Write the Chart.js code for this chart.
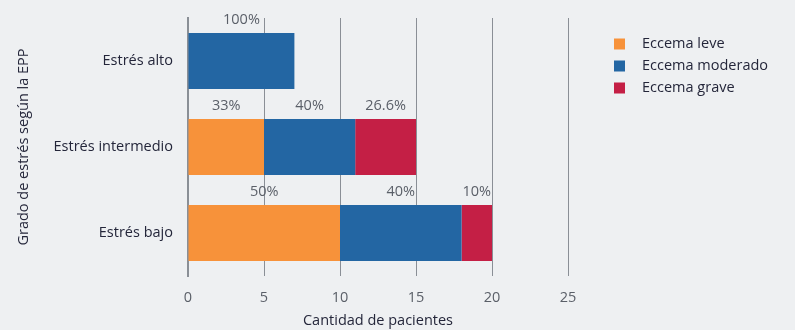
<!DOCTYPE html>
<html>
<head>
<meta charset="utf-8">
<script src="https://cdn.jsdelivr.net/npm/chart.js@4.4.1/dist/chart.umd.min.js"></script>
<style>
  html, body { margin: 0; padding: 0; background: #eef0f2; }
</style>
</head>
<body>
<canvas id="myChart" width="795" height="330"></canvas>
<script>
// data
const categories = ["Estrés alto", "Estrés intermedio", "Estrés bajo"];
const seriesNames = ["Eccema leve", "Eccema moderado", "Eccema grave"];
const leve = [null, 5, 10];
const moderado = [7, 6, 8];
const grave = [null, 4, 2];
const pctLeve = ["", "33%", "50%"];
const pctModerado = ["100%", "40%", "40%"];
const pctGrave = ["", "26.6%", "10%"];
const xMin = 0, xMax = 25, xStep = 5;

const FONT = "'Open Sans', 'Noto Sans', sans-serif";
const FSIZE = 14.5;
const gridColor = "#8a8f96";
const darkText = "#24263a";

// percent labels above each segment
const pctLabels = {
    id: "pctLabels",
    afterDatasetsDraw(chart) {
        const ctx = chart.ctx;
        ctx.save();
        ctx.font = FSIZE + "px " + FONT;
        ctx.fillStyle = "#5a5f68";
        ctx.textAlign = "center";
        ctx.textBaseline = "middle";
        chart.data.datasets.forEach((ds, i) => {
            const meta = chart.getDatasetMeta(i);
            meta.data.forEach((el, j) => {
                const txt = ds.pct[j];
                if (!txt) return;
                const p = el.getProps(["x", "y", "base", "height"], true);
                ctx.fillText(txt, (p.x + p.base) / 2, p.y - p.height / 2 - 13.5);
            });
        });
        ctx.restore();
    },
};

// legend drawn to the right of the plot
const sideLegend = {
    id: "sideLegend",
    afterDraw(chart) {
        const ctx = chart.ctx;
        const area = chart.chartArea;
        const x0 = area.right + 46;
        ctx.save();
        ctx.font = FSIZE + "px " + FONT;
        ctx.textBaseline = "middle";
        ctx.textAlign = "left";
        chart.data.datasets.forEach((ds, i) => {
            const y = area.top + 26 + i * 22;
            ctx.fillStyle = ds.backgroundColor;
            ctx.fillRect(x0, y - 5.5, 11, 11);
            ctx.fillStyle = darkText;
            ctx.fillText(ds.label, x0 + 28, y);
        });
        ctx.restore();
    },
};

const ctx = document.getElementById("myChart");
new Chart(ctx, {
    type: "bar",
    data: {
        labels: categories,
        datasets: [
            { label: seriesNames[0], data: leve, pct: pctLeve, backgroundColor: "#f7923a" },
            { label: seriesNames[1], data: moderado, pct: pctModerado, backgroundColor: "#2366a3" },
            { label: seriesNames[2], data: grave, pct: pctGrave, backgroundColor: "#c41f45" },
        ],
    },
    options: {
        indexAxis: "y",
        responsive: false,
        animation: false,
        barPercentage: 0.65,
        categoryPercentage: 1,
        layout: { padding: { top: 18, right: 227, left: 0, bottom: 0 } },
        plugins: {
            legend: { display: false },
            tooltip: { enabled: false },
        },
        scales: {
            x: {
                stacked: true,
                min: xMin,
                max: xMax,
                afterFit(scale) { scale.height = 54; },
                grid: { color: gridColor, lineWidth: 1, drawTicks: false },
                border: { display: false },
                ticks: {
                    stepSize: xStep,
                    padding: 13,
                    color: "#5a5f68",
                    font: { family: FONT, size: FSIZE },
                },
                title: {
                    display: true,
                    text: "Cantidad de pacientes",
                    color: darkText,
                    font: { family: FONT, size: FSIZE },
                    padding: { top: 0, bottom: 0 },
                },
            },
            y: {
                stacked: true,
                afterFit(scale) {
                    scale.width = 188;
                    scale.paddingTop = 0;
                    scale.paddingBottom = 0;
                },
                grid: { display: false, drawTicks: false },
                border: { display: true, color: gridColor, width: 2 },
                ticks: {
                    padding: 15,
                    color: darkText,
                    font: { family: FONT, size: FSIZE },
                },
                title: {
                    display: true,
                    text: "Grado de estrés según la EPP",
                    color: darkText,
                    font: { family: FONT, size: FSIZE },
                    padding: { top: 15, bottom: 0 },
                },
            },
        },
    },
    plugins: [pctLabels, sideLegend],
});
</script>
</body>
</html>
